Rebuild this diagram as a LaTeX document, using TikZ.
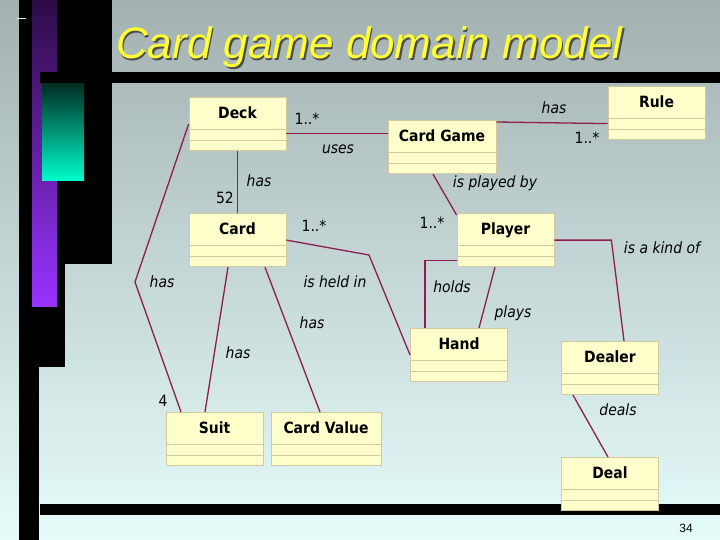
\documentclass[tikz,border=0pt]{standalone}
\usepackage{fontspec}
\usepackage{xcolor}
\usepackage{tikz}
\usetikzlibrary{shapes.multipart, positioning}

\newfontfamily\umlfont{DejaVu Sans}[FakeStretch=0.9]
\newfontfamily\slidefont{Liberation Sans}

\definecolor{bgtop}{RGB}{163,177,176}
\definecolor{bgbot}{RGB}{229,252,251}
\definecolor{boxfill}{RGB}{255,255,204}
\definecolor{boxline}{RGB}{214,200,160}
\definecolor{linkred}{RGB}{140,30,80}
\definecolor{titleyellow}{RGB}{255,255,51}
\definecolor{purpletop}{RGB}{45,12,70}
\definecolor{purplebot}{RGB}{153,51,255}
\definecolor{tealtop}{RGB}{0,45,35}
\definecolor{tealbot}{RGB}{0,255,204}

% class name in the top compartment, two empty compartments below
\newcommand{\clsname}[1]{\rule[-10pt]{0pt}{31pt}#1%
  \nodepart{two}\rule{0pt}{10pt}\hspace*{1pt}%
  \nodepart{three}\rule{0pt}{10pt}\hspace*{1pt}}

\begin{document}
\begin{tikzpicture}[
    x=1pt, y=-1pt,
    umlclass/.style={rectangle split, rectangle split parts=3, draw=boxline, fill=boxfill,
                     line width=0.8pt, inner xsep=0pt, inner ysep=0pt, anchor=north,
                     minimum width=#1, font=\umlfont\bfseries\fontsize{15.5}{18}\selectfont},
    umlclass/.default={97pt},
    link/.style={draw=linkred, line width=1.3pt},
    role/.style={font=\umlfont\itshape\fontsize{15.5}{18}\selectfont, inner sep=0pt},
    mult/.style={font=\umlfont\fontsize{15.5}{18}\selectfont, inner sep=0pt},
    titletext/.style={font=\slidefont\itshape\fontsize{44}{50}\selectfont, inner sep=0pt, anchor=base west},
]

\useasboundingbox (0,0) rectangle (720,540);

% slide background
\shade[top color=bgtop, bottom color=bgbot] (0,0) rectangle (720,540);
\fill[black] (19,0) rectangle (39,540);
\fill[black] (39,0) rectangle (112,264);
\fill[black] (39,264) rectangle (65,367);
\shade[top color=purpletop, bottom color=purplebot] (32,0) rectangle (57,306);
\fill[black] (40,72) rectangle (720,83);
\shade[top color=tealtop, bottom color=tealbot] (42,84) rectangle (84,181);
\fill[black] (40,504) rectangle (720,515);
\draw[white!85!gray, line width=0.8pt] (17,18) -- (26,18);

\node[titletext, text=black!70] (titleshadow) at (117.5,60.5) {Card game domain model};
\node[titletext, text=titleyellow] (title) at (116,59) {Card game domain model};

% classes
\node[umlclass] (deck) at (237.5,97) {\clsname{Deck}};
\node[umlclass=108pt] (game) at (442,120) {\clsname{Card Game}};
\node[umlclass] (rule) at (656.5,86) {\clsname{Rule}};
\node[umlclass] (card) at (237.5,213) {\clsname{Card}};
\node[umlclass] (player) at (505.5,213) {\clsname{Player}};
\node[umlclass] (hand) at (459,328) {\clsname{Hand}};
\node[umlclass] (dealer) at (610,341) {\clsname{Dealer}};
\node[umlclass] (deal) at (610,457) {\clsname{Deal}};
\node[umlclass] (suit) at (214.5,412) {\clsname{Suit}};
\node[umlclass=110pt] (value) at (326,412) {\clsname{Card Value}};

\coordinate (deckbend) at (135,282);
\coordinate (cardbend) at (369,255);
\coordinate (kindbend) at ([xshift=57pt]player.east);

% associations
\draw[link] ([yshift=-9.5pt]deck.east) -- ([yshift=13.5pt]game.west);
\draw[link] ([yshift=-2pt]game.north east) -- ([yshift=-10.5pt]rule.west);
\draw[link] (deck.south) -- (card.north);
\draw[link] ([xshift=-9pt]game.south) -- ([yshift=-2pt]player.north west);
\draw[link] (deck.west) -- (deckbend) -- ([xshift=-33.5pt]suit.north);
\draw[link] ([xshift=-9.5pt]card.south) -- ([xshift=-9.5pt]suit.north);
\draw[link] ([xshift=27.5pt]card.south) -- ([xshift=-6pt]value.north);
\draw[link] (card.east) -- (cardbend) -- (hand.west);
\draw[link] ([yshift=-20.5pt]player.west) -| ([xshift=-34pt]hand.north);
\draw[link] ([xshift=-10.5pt]player.south) -- ([xshift=20pt]hand.north);
\draw[link] (player.east) -- (kindbend) -- ([xshift=14pt]dealer.north);
\draw[link] ([xshift=-37pt]dealer.south) -- ([xshift=-2pt]deal.north);

% labels
\node[mult] (mdeck) at (307,119) {1..*};
\node[role] (uses) at (338,149) {uses};
\node[role] (hasrule) at (554,108) {has};
\node[mult] (mrule) at (587,138) {1..*};
\node[role] (hascard) at (259,181) {has};
\node[mult] (mcard) at (225,198) {52};
\node[role] (playedby) at (495,183) {is played by};
\node[mult] (mplayer) at (432,223) {1..*};
\node[mult] (mhand) at (314,226) {1..*};
\node[role] (hassuit) at (162,282) {has};
\node[mult] (msuit) at (163,401) {4};
\node[role] (cardsuit) at (238,353) {has};
\node[role] (cardvalue) at (312,323) {has};
\node[role] (heldin) at (335,282) {is held in};
\node[role] (holds) at (452,287) {holds};
\node[role] (plays) at (513,313) {plays};
\node[role] (kindof) at (662,248) {is a kind of};
\node[role] (deals) at (618,410) {deals};

\node[font=\slidefont\fontsize{12}{14}\selectfont, inner sep=0pt] (pagenum) at (686,528) {34};

\end{tikzpicture}
\end{document}
